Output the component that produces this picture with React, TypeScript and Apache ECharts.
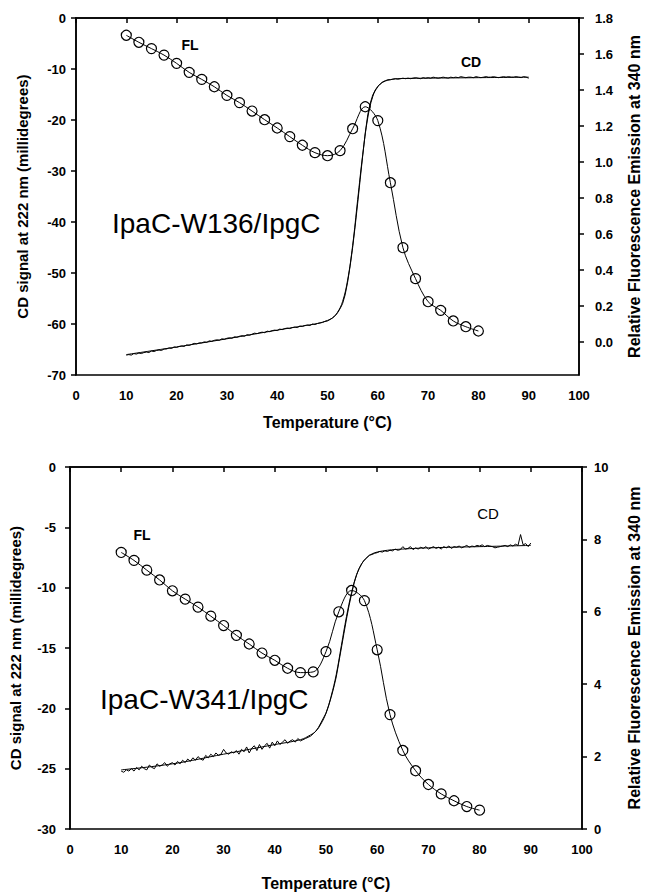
import React, { useEffect, useRef } from "react";
import * as echarts from "echarts";

const FONT = '"Liberation Sans", Arial, sans-serif';

// Fluorescence sample temperatures (°C)
const FL_T = [10, 12.5, 15, 17.5, 20, 22.5, 25, 27.5, 30, 32.5, 35, 37.5, 40, 42.5, 45, 47.5, 50, 52.5, 55, 57.5, 60, 62.5, 65, 67.5, 70, 72.5, 75, 77.5, 80];

// Top panel (IpaC-W136/IpgC): relative fluorescence
const FL_TOP = [1.704, 1.665, 1.63, 1.594, 1.548, 1.498, 1.459, 1.418, 1.37, 1.33, 1.283, 1.235, 1.189, 1.141, 1.093, 1.052, 1.035, 1.063, 1.185, 1.307, 1.23, 0.885, 0.524, 0.352, 0.224, 0.176, 0.117, 0.085, 0.061];

// Bottom panel (IpaC-W341/IpgC): relative fluorescence
const FL_BOTTOM = [7.64, 7.42, 7.15, 6.88, 6.58, 6.35, 6.13, 5.88, 5.62, 5.35, 5.11, 4.86, 4.66, 4.44, 4.32, 4.34, 4.9, 6.0, 6.59, 6.31, 4.95, 3.16, 2.17, 1.61, 1.23, 0.97, 0.78, 0.62, 0.52];

// CD traces sampled from 10 °C every 0.5 °C up to 90 °C
const CD_T_START = 10;
const CD_T_STEP = 0.5;

const CD_TOP = [
  -66.1, -66.0, -66.1, -65.8, -65.9, -65.7, -65.8, -65.6, -65.5, -65.6,
  -65.3, -65.4, -65.2, -65.1, -65.2, -64.9, -64.9, -64.7, -64.8, -64.5,
  -64.6, -64.4, -64.3, -64.4, -64.1, -64.2, -64.0, -63.8, -63.9, -63.7,
  -63.7, -63.5, -63.6, -63.3, -63.4, -63.2, -63.1, -63.2, -62.9, -63.0,
  -62.8, -62.7, -62.8, -62.5, -62.6, -62.4, -62.3, -62.4, -62.1, -62.2,
  -62.0, -61.8, -61.9, -61.7, -61.6, -61.7, -61.4, -61.5, -61.3, -61.2,
  -61.3, -61.0, -61.1, -60.9, -60.8, -60.9, -60.7, -60.6, -60.7, -60.4,
  -60.5, -60.3, -60.2, -60.3, -60.0, -60.1, -59.9, -59.8, -59.7, -59.5,
  -59.4, -59.1, -58.8, -58.4, -57.8, -57.0, -56.0, -54.3, -51.8, -48.6,
  -45.0, -40.8, -36.3, -31.6, -27.0, -22.6, -19.0, -16.7, -15.1, -14.1,
  -13.4, -12.9, -12.5, -12.3, -12.1, -12.1, -12.0, -11.9, -12.0, -11.9,
  -11.8, -11.9, -11.8, -11.9, -11.8, -11.7, -11.8, -11.9, -11.7, -11.8,
  -11.7, -11.8, -11.6, -11.7, -11.8, -11.7, -11.6, -11.7, -11.8, -11.6,
  -11.7, -11.6, -11.7, -11.5, -11.6, -11.7, -11.6, -11.6, -11.7, -11.5,
  -11.6, -11.7, -11.6, -11.5, -11.6, -11.6, -11.5, -11.6, -11.7, -11.6,
  -11.5, -11.6, -11.5, -11.6, -11.6, -11.5, -11.6, -11.7, -11.5, -11.6,
  -11.8,
];

const CD_BOTTOM = [
  -25.2, -25.3, -25.1, -25.2, -25.0, -25.2, -24.9, -25.1, -24.8, -25.0,
  -25.1, -24.7, -24.9, -25.0, -24.6, -24.8, -24.7, -24.5, -24.8, -24.6,
  -24.5, -24.7, -24.4, -24.6, -24.3, -24.5, -24.2, -24.4, -24.1, -24.3,
  -24.0, -24.2, -24.3, -23.9, -24.1, -23.8, -24.0, -23.7, -23.9, -23.8,
  -23.4, -23.7, -23.8, -23.6, -23.7, -23.5, -23.8, -23.4, -23.6, -23.2,
  -23.7, -23.3, -23.1, -23.5, -23.0, -23.4, -23.1, -22.9, -23.3, -22.8,
  -23.1, -22.7, -23.0, -22.8, -22.6, -22.9, -22.7, -22.6, -22.8, -22.5,
  -22.7, -22.6, -22.5, -22.4, -22.3, -22.1, -21.9, -21.6, -21.2, -20.8,
  -20.4, -19.8, -19.1, -18.3, -17.4, -16.2, -15.0, -13.8, -12.6, -11.5,
  -10.5, -9.6, -8.9, -8.4, -8.0, -7.7, -7.5, -7.3, -7.25, -7.15,
  -7.1, -7.0, -7.05, -6.95, -7.0, -6.9, -6.95, -6.8, -6.9, -6.85,
  -6.6, -6.8, -6.75, -6.6, -6.85, -6.7, -6.8, -6.65, -6.75, -6.6,
  -6.8, -6.7, -6.6, -6.75, -6.65, -6.8, -6.6, -6.7, -6.55, -6.75,
  -6.6, -6.65, -6.55, -6.7, -6.6, -6.5, -6.65, -6.55, -6.6, -6.5,
  -6.55, -6.45, -6.6, -6.5, -6.55, -6.6, -6.7, -6.65, -6.6, -6.55,
  -6.5, -6.6, -6.45, -6.55, -6.4, -6.5, -5.6, -6.45, -6.35, -6.6,
  -6.3,
];

// Fitted CD curves
const FIT_T = [10, 20, 30, 40, 45, 48, 50, 51, 52, 53, 54, 55, 56, 57, 58, 59, 60, 61, 62, 64, 70, 80, 90];
const FIT_TOP = [-66.0, -64.5, -62.9, -61.2, -60.4, -59.9, -59.3, -58.8, -57.7, -55.6, -51.4, -44.6, -35.6, -26.8, -19.6, -15.4, -13.5, -12.6, -12.2, -11.9, -11.8, -11.7, -11.6];
const FIT_T_B = [10, 20, 30, 40, 45, 47, 48, 49, 50, 51, 52, 53, 54, 55, 56, 57, 58, 59, 60, 62, 65, 70, 80, 90];
const FIT_BOTTOM = [-25.1, -24.6, -23.8, -23.0, -22.6, -22.2, -21.9, -21.3, -20.4, -19.0, -17.2, -14.8, -12.4, -10.4, -8.9, -8.0, -7.5, -7.2, -7.05, -6.9, -6.8, -6.7, -6.6, -6.5];

// Axis ticks
const RIGHT_TICKS_TOP = [0, 0.2, 0.4, 0.6, 0.8, 1.0, 1.2, 1.4, 1.6, 1.8];

const pairs = (xs: number[], ys: number[]) => ys.map((y, i) => [xs[i], y]);
const cdPairs = (ys: number[]) => ys.map((y, i) => [CD_T_START + i * CD_T_STEP, y]);

const axisCommon = {
  axisLine: { show: true, lineStyle: { color: "#000", width: 1.5 } },
  axisTick: { show: true, length: 5, lineStyle: { color: "#000", width: 1.5 } },
  splitLine: { show: false },
};

const labelStyle = { color: "#000", fontWeight: "bold", fontSize: 13, fontFamily: FONT };
const nameStyle = { color: "#000", fontWeight: "bold", fontSize: 15, fontFamily: FONT };

export default function App() {
  const ref = useRef<HTMLDivElement>(null);
  useEffect(() => {
    if (!ref.current) return;
    const chart = echarts.init(ref.current, undefined, { renderer: "svg" });
    const lineBlack = { color: "#000", width: 1 };
    const flItem = { color: "rgba(0,0,0,0)", borderColor: "#000", borderWidth: 1.2 };
    const option: any = {
      animation: false,
      textStyle: { fontFamily: FONT },
      grid: [
        { left: 76, top: 18, width: 509, height: 357, show: true, borderColor: "#000", borderWidth: 1.5, backgroundColor: "transparent" },
        { left: 70, top: 467, width: 518, height: 363, show: true, borderColor: "#000", borderWidth: 1.5, backgroundColor: "transparent" },
      ],
      xAxis: [0, 1].map((g) => ({
        type: "value",
        gridIndex: g,
        min: 0,
        max: 100,
        interval: 10,
        ...axisCommon,
        axisLabel: { ...labelStyle, margin: 14 },
        name: "Temperature (°C)",
        nameLocation: "middle",
        nameGap: g === 0 ? 39 : 46,
        nameTextStyle: { ...nameStyle, fontSize: 16 },
      })),
      yAxis: [
        {
          type: "value", gridIndex: 0, position: "left", min: -70, max: 0, interval: 10,
          ...axisCommon,
          axisLabel: { ...labelStyle, margin: 10 },
          name: "CD signal at 222 nm (millidegrees)", nameLocation: "middle", nameRotate: 90, nameGap: 46,
          nameTextStyle: nameStyle,
        },
        {
          type: "value", gridIndex: 0, position: "right", min: -0.1833, max: 1.8,
          ...axisCommon,
          axisTick: { ...axisCommon.axisTick, customValues: RIGHT_TICKS_TOP },
          axisLabel: { ...labelStyle, margin: 16, customValues: RIGHT_TICKS_TOP, formatter: (v: number) => v.toFixed(1) },
          name: "Relative Fluorescence Emission at 340 nm", nameLocation: "middle", nameRotate: 90, nameGap: 47,
          nameTextStyle: { ...nameStyle, fontSize: 16 },
        },
        {
          type: "value", gridIndex: 1, position: "left", min: -30, max: 0, interval: 5,
          ...axisCommon,
          axisLabel: { ...labelStyle, margin: 14 },
          name: "CD signal at 222 nm (millidegrees)", nameLocation: "middle", nameRotate: 90, nameGap: 47,
          nameTextStyle: nameStyle,
        },
        {
          type: "value", gridIndex: 1, position: "right", min: 0, max: 10, interval: 2,
          ...axisCommon,
          axisLabel: { ...labelStyle, margin: 12 },
          name: "Relative Fluorescence Emission at 340 nm", nameLocation: "middle", nameRotate: 90, nameGap: 44,
          nameTextStyle: { ...nameStyle, fontSize: 16 },
        },
      ],
      series: [
        { name: "CD top", type: "line", xAxisIndex: 0, yAxisIndex: 0, data: cdPairs(CD_TOP), symbol: "none", lineStyle: lineBlack },
        { name: "CD top fit", type: "line", xAxisIndex: 0, yAxisIndex: 0, data: pairs(FIT_T, FIT_TOP), symbol: "none", smooth: 0.4, lineStyle: lineBlack },
        { name: "FL top", type: "line", xAxisIndex: 0, yAxisIndex: 1, data: pairs(FL_T, FL_TOP), symbol: "circle", symbolSize: 10, smooth: 0.35, lineStyle: lineBlack, itemStyle: flItem },
        { name: "CD bottom", type: "line", xAxisIndex: 1, yAxisIndex: 2, data: cdPairs(CD_BOTTOM), symbol: "none", lineStyle: lineBlack },
        { name: "CD bottom fit", type: "line", xAxisIndex: 1, yAxisIndex: 2, data: pairs(FIT_T_B, FIT_BOTTOM), symbol: "none", smooth: 0.4, lineStyle: lineBlack },
        { name: "FL bottom", type: "line", xAxisIndex: 1, yAxisIndex: 3, data: pairs(FL_T, FL_BOTTOM), symbol: "circle", symbolSize: 10, smooth: 0.35, lineStyle: lineBlack, itemStyle: flItem },
      ],
      graphic: [
        { type: "text", x: 190, y: 45, style: { text: "FL", font: `bold 14px ${FONT}`, fill: "#000", align: "center", verticalAlign: "middle" } },
        { type: "text", x: 471, y: 62, style: { text: "CD", font: `bold 14px ${FONT}`, fill: "#000", align: "center", verticalAlign: "middle" } },
        { type: "text", x: 112, y: 223, style: { text: "IpaC-W136/IpgC", font: `28px ${FONT}`, fill: "#000", align: "left", verticalAlign: "middle" } },
        { type: "text", x: 142, y: 535, style: { text: "FL", font: `bold 14px ${FONT}`, fill: "#000", align: "center", verticalAlign: "middle" } },
        { type: "text", x: 488, y: 513, style: { text: "CD", font: `15px ${FONT}`, fill: "#000", align: "center", verticalAlign: "middle" } },
        { type: "text", x: 100, y: 699, style: { text: "IpaC-W341/IpgC", font: `28px ${FONT}`, fill: "#000", align: "left", verticalAlign: "middle" } },
      ],
    };
    chart.setOption(option);
    return () => chart.dispose();
  }, []);
  return <div ref={ref} style={{ position: "absolute", left: 0, top: 0, width: 650, height: 892, background: "#fff" }} />;
}
